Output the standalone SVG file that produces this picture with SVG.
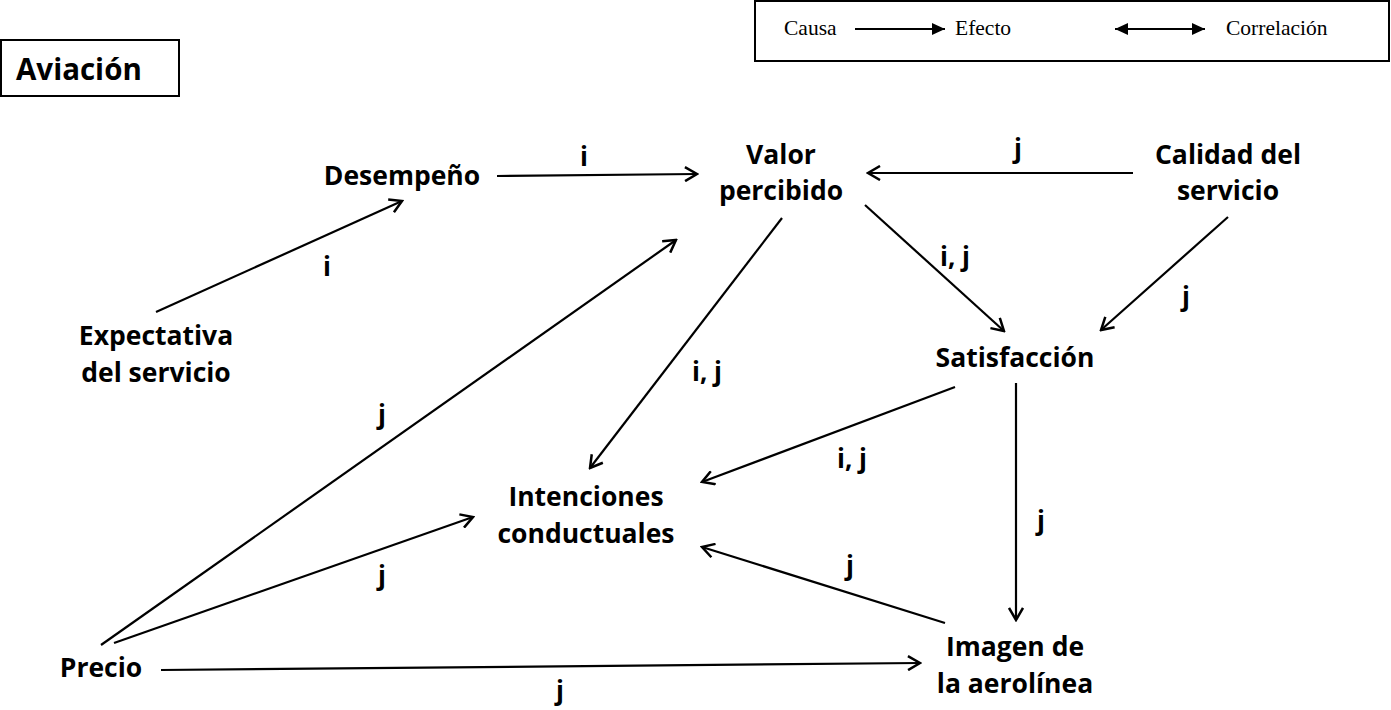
<svg xmlns="http://www.w3.org/2000/svg" width="1391" height="710" viewBox="0 0 1391 710">
<style>
.n{font-family:"Open Sans","Liberation Sans",sans-serif;font-weight:bold;font-size:26.5px;fill:#000;text-anchor:middle}
.l{font-family:"Open Sans","Liberation Sans",sans-serif;font-weight:bold;font-size:26px;fill:#000;text-anchor:middle}
.g{font-family:"Liberation Serif",serif;font-size:21.5px;fill:#000}
.c{stroke:#000;stroke-width:2.2;fill:none;marker-end:url(#a)}
</style>
<defs>
<marker id="a" markerUnits="userSpaceOnUse" markerWidth="16" markerHeight="16" refX="14" refY="8" orient="auto">
<path d="M2,1 L14,8 L2,15" fill="none" stroke="#000" stroke-width="2.5"/>
</marker>
<marker id="f" markerUnits="userSpaceOnUse" markerWidth="14" markerHeight="12" refX="13" refY="6" orient="auto-start-reverse">
<path d="M0,0 L13,6 L0,12 Z" fill="#000"/>
</marker>
</defs>
<rect width="1391" height="710" fill="#fff"/>
<g id="legend">
<rect x="755" y="1" width="634" height="60" fill="none" stroke="#000" stroke-width="2"/>
<text class="g" x="784" y="35">Causa</text>
<line x1="855" y1="29" x2="945" y2="29" stroke="#000" stroke-width="2.2" marker-end="url(#f)"/>
<text class="g" x="955" y="35">Efecto</text>
<line x1="1115" y1="29" x2="1205" y2="29" stroke="#000" stroke-width="2.2" marker-start="url(#f)" marker-end="url(#f)"/>
<text class="g" x="1226" y="35">Correlación</text>
</g>
<g id="title">
<rect x="1" y="40" width="178" height="56" fill="none" stroke="#000" stroke-width="2"/>
<text x="16" y="80" font-family="Open Sans, Liberation Sans, sans-serif" font-weight="bold" font-size="29.5">Aviación</text>
</g>
<g id="desempeno"><text class="n" x="402" y="185">Desempeño</text></g>
<g id="valor"><text class="n" x="781" y="164">Valor</text><text class="n" x="781" y="200">percibido</text></g>
<g id="calidad"><text class="n" x="1228" y="164">Calidad del</text><text class="n" x="1228" y="200">servicio</text></g>
<g id="expectativa"><text class="n" x="156" y="345">Expectativa</text><text class="n" x="156" y="382">del servicio</text></g>
<g id="satisfaccion"><text class="n" x="1015" y="367">Satisfacción</text></g>
<g id="intenciones"><text class="n" x="586" y="506">Intenciones</text><text class="n" x="586" y="543">conductuales</text></g>
<g id="precio"><text class="n" x="101" y="677">Precio</text></g>
<g id="imagen"><text class="n" x="1015" y="656">Imagen de</text><text class="n" x="1015" y="693">la aerolínea</text></g>
<g id="connectors">
<line class="c" x1="156" y1="312" x2="402" y2="201"/>
<line class="c" x1="497" y1="176" x2="697" y2="174"/>
<line class="c" x1="1133" y1="173" x2="868" y2="173"/>
<line class="c" x1="865" y1="205" x2="1004" y2="331"/>
<line class="c" x1="1228" y1="217" x2="1101" y2="330"/>
<line class="c" x1="782" y1="218" x2="590" y2="468"/>
<line class="c" x1="101" y1="645" x2="676" y2="240"/>
<line class="c" x1="955" y1="387" x2="702" y2="482"/>
<line class="c" x1="1016" y1="383" x2="1016" y2="620"/>
<line class="c" x1="945" y1="623" x2="702" y2="547"/>
<line class="c" x1="114" y1="643" x2="473" y2="517"/>
<line class="c" x1="161" y1="670" x2="920" y2="663"/>
<text class="l" x="327" y="276">i</text>
<text class="l" x="584" y="166">i</text>
<text class="l" x="1018" y="158">j</text>
<text class="l" x="955" y="266">i, j</text>
<text class="l" x="1186" y="306">j</text>
<text class="l" x="707" y="381">i, j</text>
<text class="l" x="382" y="424">j</text>
<text class="l" x="852" y="468">i, j</text>
<text class="l" x="1041" y="530">j</text>
<text class="l" x="850" y="575">j</text>
<text class="l" x="382" y="585">j</text>
<text class="l" x="560" y="700">j</text>
</g>
</svg>
